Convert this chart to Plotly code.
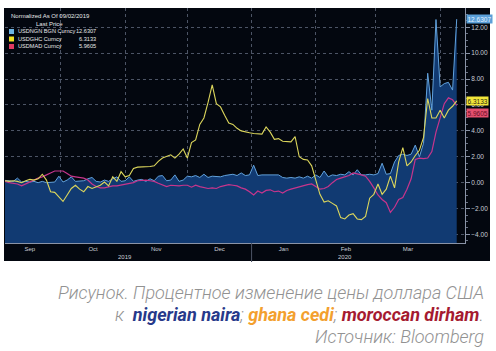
import plotly.graph_objects as go
import pandas as pd

# ---------------- data ----------------
dates = pd.date_range("2019-09-02", periods=111, freq="2D")

ngn = [0.2, 0.2, 0.15, 0.1, 0.35, 0.05, 0.1, 0.05, 0.1, 0.0,
       0.1, 0.0, 0.05, 0.05, 0.5, 0.05, 0.2, 0.45, 0.1, 0.1,
       0.15, 0.3, 0.4, 0.1, 0.05, 0.2, 0.1, 0.3, 0.45, 0.1,
       0.15, 0.45, 0.1, 0.2, 0.25, 0.1, 0.3, 0.15, 0.5, 0.55,
       0.15, 0.2, 0.6, 0.1, 0.2, 0.5, 0.45, 0.55, 0.4, 0.65,
       0.4, 0.5, 0.5, 0.45, 0.55, 0.6, 0.65, 0.55, 0.75, 0.55,
       0.6, 1.35, 0.55, 0.6, 0.6, 0.6, 0.55, 0.6, 0.4, 0.35,
       0.4, 0.35, 0.45, 0.35, 0.5, 0.35, 0.6, 0.4, 0.9, 0.45,
       0.6, 0.55, 0.65, 0.6, 0.85, 0.6, 1.0, 0.6, 0.6, 0.65,
       0.6, 0.7, 1.5, 0.65, 0.7, 1.6, 2.1, 2.2, 2.1, 2.2,
       2.9, 2.0, 3.05, 8.45, 5.6, 12.6, 7.4, 7.65, 7.75, 7.15, 12.6307]

ghs = [0.0, 0.15, 0.1, 0.15, 0.1, 0.0, 0.15, 0.25, 0.2, 0.3,
       0.65, 0.2, -0.7, -0.75, -1.1, -1.45, -0.95, -0.45, -0.2, -0.5,
       -0.7, -0.3, -0.45, -0.3, -0.2, 0.05, -0.25, 0.45, 0.1, 0.85,
       0.45, 0.55, 1.1, 1.2, 1.2, 1.2, 1.25, 1.3, 1.65, 1.9,
       2.0, 2.15, 1.9, 2.2, 2.6, 1.9, 3.1, 3.3, 4.5, 5.0,
       6.2, 7.55, 6.1, 5.85, 5.2, 4.6, 4.5, 4.2, 4.0, 3.9,
       3.85, 3.8, 3.75, 3.75, 4.3, 3.9, 3.35, 3.4, 3.2, 3.2,
       3.15, 3.55, 2.0, 1.8, 1.75, 1.3, 0.2, -0.9, -1.5, -1.4,
       -1.6, -1.8, -2.7, -2.8, -2.5, -2.4, -2.8, -2.85, -2.6, -1.2,
       -0.9, -0.1, -0.9, -0.5, 0.5, -0.4, 1.6, 2.7, 1.3, 1.6,
       2.1, 2.5, 3.5, 6.5, 5.0, 5.0, 5.6, 5.0, 5.6, 5.9, 6.3133]

mad = [0.0, 0.1, 0.0, -0.05, -0.1, -0.25, -0.1, 0.1, 0.25, 0.35,
       0.45, 0.6, 0.8, 0.9, 0.9, 0.9, 0.7, 0.5, 0.45, 0.4,
       0.35, 0.2, -0.1, -0.3, -0.4, -0.4, -0.3, -0.25, -0.25, -0.2,
       -0.15, -0.05, 0.0, 0.15, 0.2, 0.2, 0.15, 0.1, -0.05, -0.15,
       -0.3, -0.2, -0.25, -0.25, -0.2, -0.2, -0.35, -0.2, -0.3, -0.35,
       -0.45, -0.4, -0.45, -0.3, -0.2, -0.15, -0.2, -0.25, -0.4, -0.5,
       -0.7, -0.95, -0.65, -0.8, -0.6, -0.55, -0.7, -0.65, -0.8, -0.6,
       -0.5, -0.4, -0.35, -0.25, -0.15, -0.1, -0.3, -0.5, -0.45, -0.3,
       0.0, 0.25, 0.35, 0.45, 0.55, 0.75, 0.7, 0.6, 0.5, 0.1,
       -0.4, -0.95, -1.3, -1.55, -2.3, -1.9, -1.3, -1.15, -0.5, 0.3,
       1.8, 1.9, 1.85, 1.9, 2.4, 3.9, 5.0, 6.1, 6.55, 6.4, 5.9605]

series_names = ["USDNGN BGN Curncy", "USDGHC Curncy", "USDMAD Curncy"]
year_labels = ["2019", "2020"]
year_label_dates = ["2019-11-01", "2020-02-15"]
legend_header = "Normalized As Of 09/02/2019"
legend_sub = "Last Price"

Y_MIN, Y_MAX = -4.66, 13.49
X_RANGE = ["2019-09-04", "2020-04-13"]

# ---------------- styling ----------------
BG = "#03070f"
GRID = "#4c5465"
TXT = "#c9cdd6"
FILL = "#113a72"
C_NGN = "#62a2dc"
C_GHS = "#dcd65c"
C_MAD = "#c8358c"
SQ = ["#6cb4e4", "#f0e020", "#e23a62"]
SMALL = "Liberation Sans, Arial, sans-serif"

L, R, T, B = 5, 31, 8, 108
W, H = 496, 351
PW, PH = W - L - R, H - T - B


def px(xp):
    return (xp - L) / PW


def py(yp):
    return 1 - (yp - T) / PH


fig = go.Figure()

# baseline for naira area (area is filled down to the bottom of the axis)
fig.add_trace(go.Scatter(x=dates, y=[Y_MIN] * len(dates), mode="lines",
                         line=dict(width=0), hoverinfo="skip", showlegend=False))
fig.add_trace(go.Scatter(x=dates, y=ngn, mode="lines", fill="tonexty",
                         fillcolor=FILL, line=dict(color=C_NGN, width=1),
                         name=series_names[0]))
fig.add_trace(go.Scatter(x=dates, y=mad, mode="lines",
                         line=dict(color=C_MAD, width=1.2), name=series_names[2]))
fig.add_trace(go.Scatter(x=dates, y=ghs, mode="lines",
                         line=dict(color=C_GHS, width=1.1), name=series_names[1]))

shapes = []
# dark panel
shapes.append(dict(type="rect", xref="paper", yref="paper",
                   x0=px(4), x1=px(490), y0=py(261), y1=py(8),
                   fillcolor=BG, line=dict(width=0), layer="below"))
# year separator
shapes.append(dict(type="line", xref="x", yref="paper",
                   x0="2020-01-01", x1="2020-01-01", y0=py(262), y1=0,
                   line=dict(color="#4c5465", width=1)))

LEG = dict(family=SMALL, size=6, color="#e8e8ea")
LEG_ROW = dict(family=SMALL, size=5.6, color="#e8e8ea")
annotations = []
# legend block
annotations.append(dict(xref="paper", yref="paper", x=px(9), y=py(16),
                        xanchor="left", yanchor="middle", showarrow=False,
                        text=legend_header, font=LEG))
annotations.append(dict(xref="paper", yref="paper", x=px(49), y=py(24),
                        xanchor="center", yanchor="middle", showarrow=False,
                        text=legend_sub, font=LEG))
last_vals = [ngn[-1], ghs[-1], mad[-1]]
row_y = [31.5, 39, 46.5]
for name, val, col, ry in zip(series_names, last_vals, SQ, row_y):
    shapes.append(dict(type="rect", xref="paper", yref="paper",
                       x0=px(9), x1=px(14), y0=py(ry + 2.5), y1=py(ry - 2.5),
                       fillcolor=col, line=dict(width=0)))
    annotations.append(dict(xref="paper", yref="paper", x=px(16), y=py(ry),
                            xanchor="left", yanchor="middle", showarrow=False,
                            text=name, font=LEG_ROW))
    annotations.append(dict(xref="paper", yref="paper", x=px(98), y=py(ry),
                            xanchor="right", yanchor="middle", showarrow=False,
                            text=f"{val:.4f}", font=LEG_ROW))

# last value tags on right axis
tag_styles = [("#5b9fd8", "#e4f1ff", 0), ("#f2e53a", "#2a2a10", 0), ("#e4506e", "#6a0c26", -8)]
for val, (bgc, fc, ys) in zip(last_vals, tag_styles):
    annotations.append(dict(xref="paper", yref="y", x=1, y=val, xanchor="left",
                            yanchor="middle", xshift=1, yshift=ys, showarrow=False,
                            text=f"{val:.4f}", bgcolor=bgc, borderpad=0.5,
                            font=dict(family=SMALL, size=6.5, color=fc)))

# years
for lab, d in zip(year_labels, year_label_dates):
    annotations.append(dict(xref="x", yref="paper", x=d, y=py(257),
                            xanchor="center", yanchor="middle", showarrow=False,
                            text=lab, font=dict(family=SMALL, size=6, color=TXT)))

# caption
CAP = dict(family="Roboto, sans-serif", size=18, color="#929292", style="italic", weight=300)
annotations.append(dict(xref="paper", yref="paper", x=px(486), y=py(292),
                        xanchor="right", yanchor="middle", showarrow=False,
                        text="Рисунок. Процентное изменение цены доллара США", font=CAP))
line2 = ("к  <b><span style='color:#27398a'>nigerian naira</span></b>; "
         "<b><span style='color:#f3a02e'>ghana cedi</span></b>; "
         "<b><span style='color:#a51a30'>moroccan dirham</span></b>.")
annotations.append(dict(xref="paper", yref="paper", x=px(486), y=py(314),
                        xanchor="right", yanchor="middle", showarrow=False,
                        text=line2, font=CAP))
annotations.append(dict(xref="paper", yref="paper", x=px(486), y=py(336),
                        xanchor="right", yanchor="middle", showarrow=False,
                        text="Источник: Bloomberg", font=CAP))

fig.update_layout(
    width=W, height=H,
    margin=dict(l=L, r=R, t=T, b=B),
    paper_bgcolor="white",
    plot_bgcolor=BG,
    showlegend=False,
    shapes=shapes,
    annotations=annotations,
    xaxis=dict(type="date", range=X_RANGE, dtick="M1", tick0="2019-09-01",
               ticklabelmode="period", tickformat="%b", ticks="",
               showgrid=True, gridcolor=GRID, griddash="dot", gridwidth=1,
               showline=True, linecolor="#8a93a6", linewidth=1, zeroline=False,
               tickfont=dict(family=SMALL, size=6, color=TXT), ticklabelstandoff=0),
    yaxis=dict(side="right", range=[Y_MIN, Y_MAX], dtick=2, tick0=0, tickformat=".2f",
               ticks="outside", ticklen=4, tickcolor="#8a93a6",
               showgrid=True, gridcolor=GRID, griddash="dot", gridwidth=1,
               showline=True, linecolor="#8a93a6", linewidth=1, zeroline=False,
               tickfont=dict(family=SMALL, size=6.5, color=TXT),
               minor=dict(ticks="outside", ticklen=2, dtick=0.5, tickcolor="#6a7284", showgrid=False)),
)

fig.write_html("out.html")
